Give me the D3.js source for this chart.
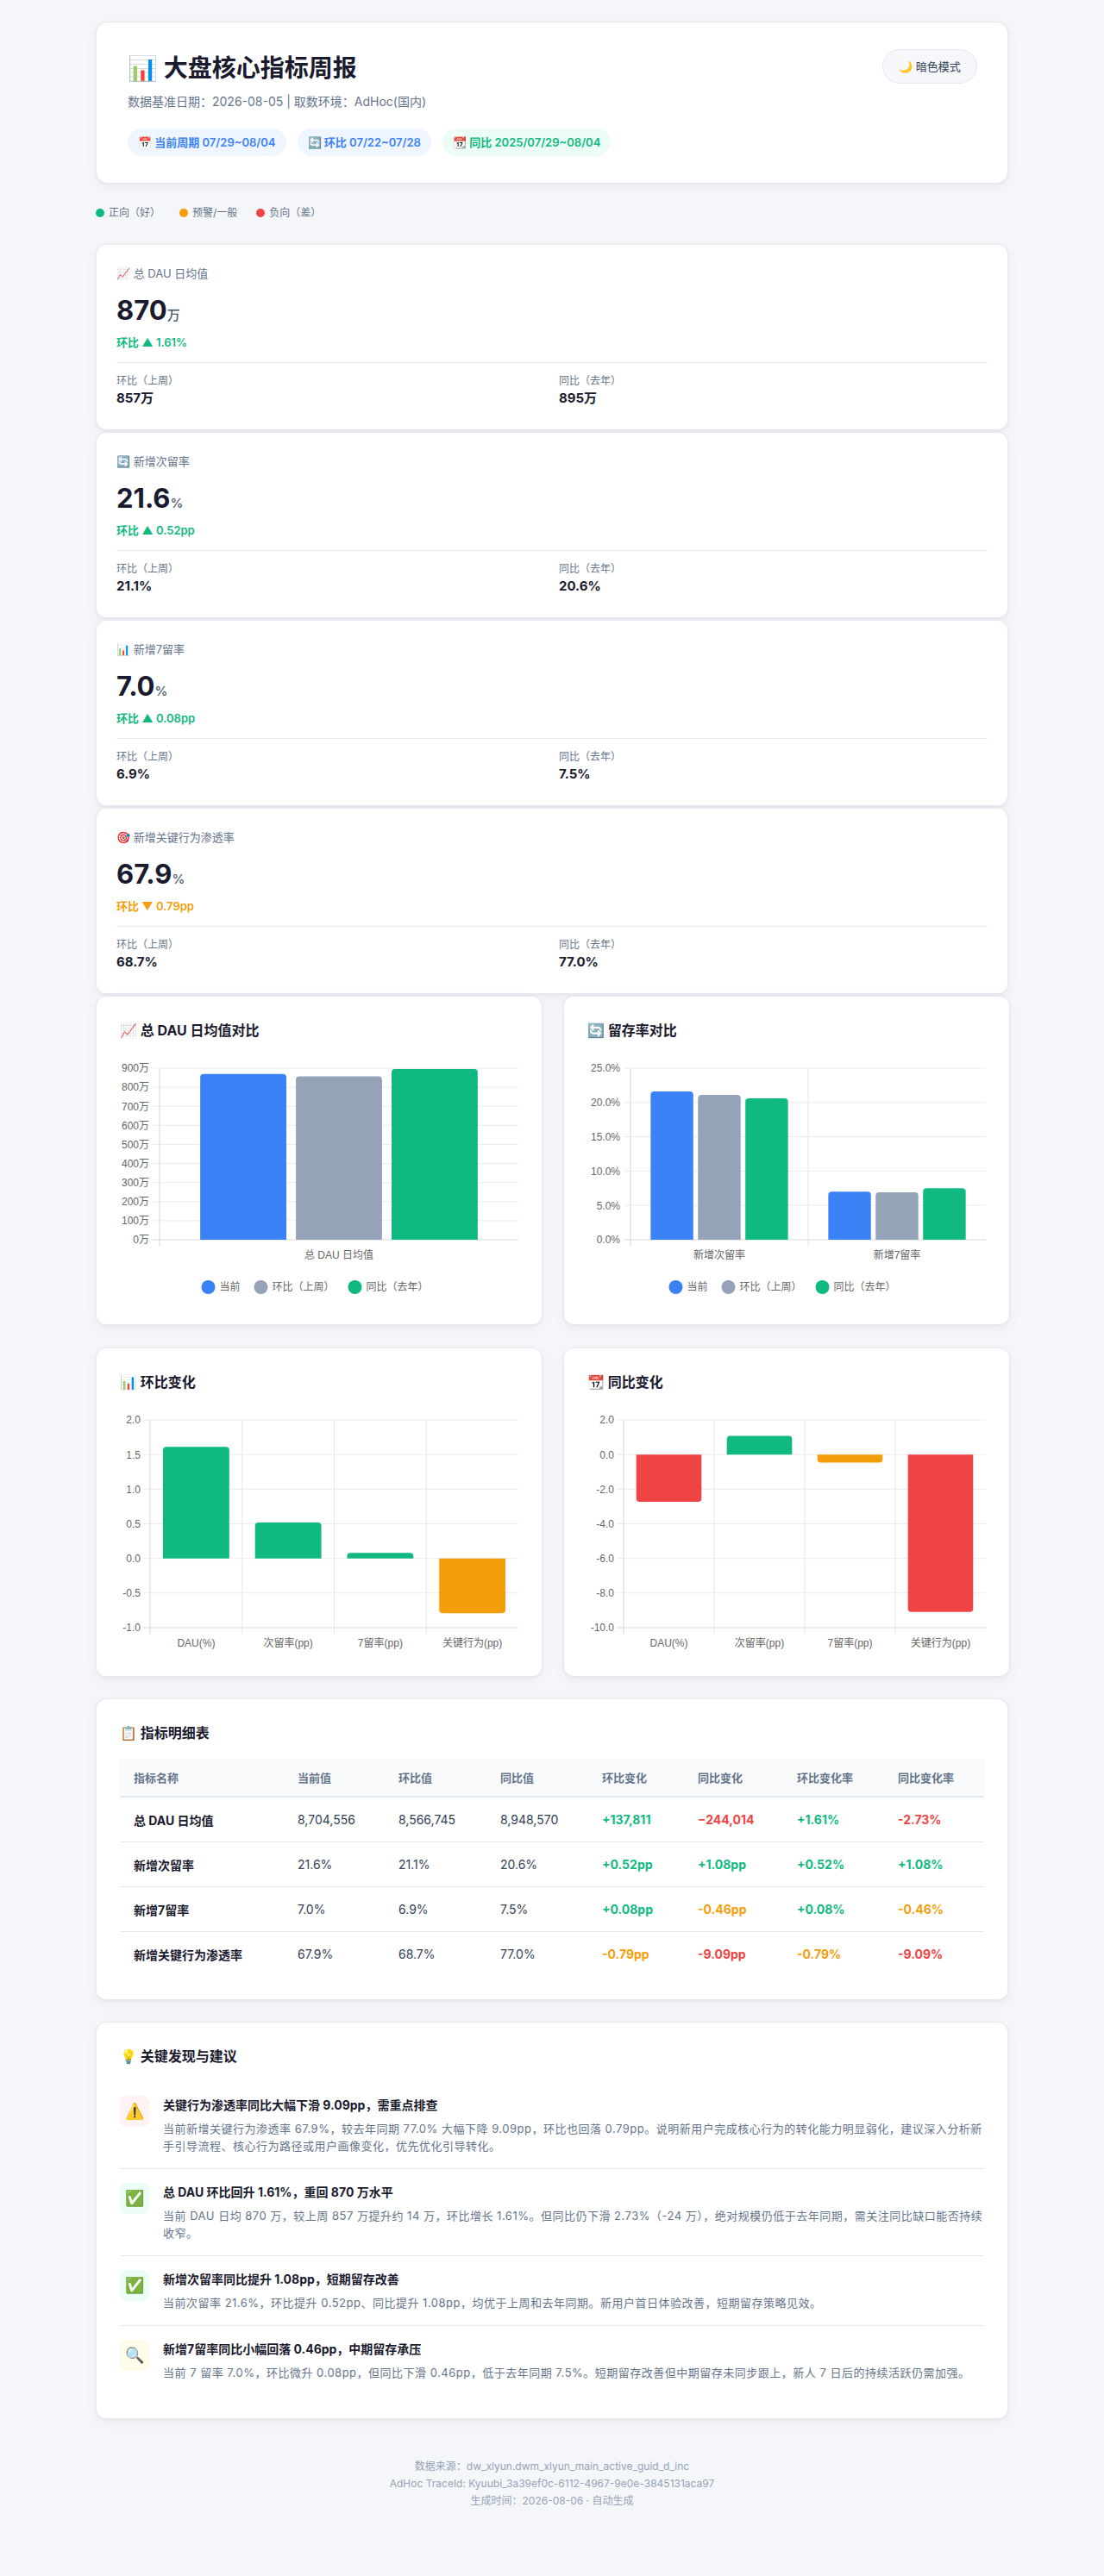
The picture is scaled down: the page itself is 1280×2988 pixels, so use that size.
<!DOCTYPE html>
<html lang="zh-CN">
<head>
<meta charset="utf-8">
<title>大盘核心指标周报</title>
<script src="https://cdn.jsdelivr.net/npm/d3@7"></script>
<style>
  body {
    margin: 0;
    background: #f4f6fa;
    font-family: Inter, "Noto Sans CJK SC", sans-serif;
    color: #1e293b;
  }
  .wrap { width: 1058px; margin: 0 auto; padding: 25px 0 60px; }
  .card {
    background: #fff;
    border: 1px solid #e5e9f0;
    border-radius: 14px;
    box-shadow: 0 1px 3px rgba(15, 23, 42, 0.05), 0 4px 14px rgba(15, 23, 42, 0.04);
    box-sizing: border-box;
  }
  .header { position: relative; padding: 35px 36px 31px; }
  .header h1 { margin: 0; height: 36px; font-size: 28px; line-height: 36px; font-weight: 700; color: #1a1a2e; }
  .header .sub { margin-top: 11px; height: 20px; font-size: 14px; line-height: 20px; color: #64748b; }
  .pills { margin-top: 21px; display: flex; gap: 13px; }
  .pill { height: 32px; line-height: 32px; padding: 0 12px; border-radius: 16px; font-size: 13px; font-weight: 600; overflow: hidden; }
  .pill.blue { background: #eff6ff; color: #3b82f6; }
  .pill.green { background: #ecfdf5; color: #10b981; }
  .theme-btn {
    position: absolute; top: 31px; right: 35px; width: 110px; height: 40px; box-sizing: border-box;
    border: 1px solid #e2e8f0; border-radius: 20px; background: #f5f7fa;
    font-size: 13px; line-height: 38px; text-align: center; color: #334155; overflow: hidden;
  }
  .legend { margin: 24px 0 26px; height: 20px; display: flex; gap: 22px; font-size: 12px; line-height: 20px; color: #64748b; }
  .legend span { display: flex; align-items: center; }
  .legend i { width: 10px; height: 10px; border-radius: 50%; margin-right: 5px; display: inline-block; }
  .kpi { padding: 23px 23px 25px; margin-bottom: 2px; border-radius: 12px; }
  .kpi .label { height: 20px; font-size: 13px; line-height: 20px; color: #64748b; }
  .kpi .value { margin-top: 15px; height: 36px; font-size: 31px; line-height: 36px; font-weight: 700; color: #1a1a2e; }
  .kpi .value small { font-size: 15px; font-weight: 500; color: #475569; }
  .kpi .change { margin-top: 9px; height: 20px; font-size: 13px; line-height: 20px; font-weight: 600; }
  .kpi .compare { margin-top: 13px; border-top: 1px solid #e2e8f0; padding-top: 12px; display: grid; grid-template-columns: 1fr 1fr; gap: 16px; }
  .kpi .compare .k { height: 18px; font-size: 12px; line-height: 18px; color: #64748b; }
  .kpi .compare .v { height: 22px; font-size: 15px; line-height: 22px; font-weight: 700; color: #1a1a2e; }
  .charts { margin-top: 2px; display: grid; grid-template-columns: 1fr 1fr; column-gap: 24px; row-gap: 26px; }
  .chart-card { padding: 27px; height: 382px; border-radius: 12px; }
  .chart-title, .section-title { height: 24px; font-size: 16px; line-height: 24px; font-weight: 700; color: #1a1a2e; margin-bottom: 18px; }
  .chart-card svg { overflow: visible; display: block; }
  .section { margin-top: 25px; padding: 27px; border-radius: 12px; }
  table { width: 100%; border-collapse: collapse; }
  th { background: #f8fafc; height: 43px; padding: 0 16px; text-align: left; font-size: 13px; font-weight: 600; color: #64748b; border-bottom: 2px solid #e2e8f0; }
  td { height: 51px; padding: 0 16px; font-size: 14px; color: #334155; border-bottom: 1px solid #e2e8f0; }
  tr:last-child td { border-bottom: none; }
  td.name { font-weight: 700; color: #1a1a2e; }
  td.chg { font-weight: 700; }
  .good { color: #10b981; }
  .warn { color: #f59e0b; }
  .bad { color: #ef4444; }
  .item { display: flex; padding: 16px 0; border-bottom: 1px solid #e2e8f0; }
  .item:last-child { border-bottom: none; }
  .item .icon { flex: 0 0 34px; height: 36px; border-radius: 8px; margin-right: 16px; font-size: 18px; line-height: 36px; text-align: center; overflow: hidden; }
  .item .t { height: 22px; font-size: 14px; line-height: 22px; font-weight: 700; color: #1a1a2e; }
  .item .d { margin-top: 6px; font-size: 13px; line-height: 20px; letter-spacing: 0.5px; color: #64748b; }
  .footer { margin-top: 45px; text-align: center; font-size: 12px; line-height: 20px; color: #94a3b8; }
</style>
</head>
<body>
<div class="wrap">
  <div class="card header">
    <h1>📊 大盘核心指标周报</h1>
    <div class="sub">数据基准日期：2026-08-05 | 取数环境：AdHoc(国内)</div>
    <div class="pills">
      <div class="pill blue">📅 当前周期 07/29~08/04</div>
      <div class="pill blue">🔄 环比 07/22~07/28</div>
      <div class="pill green">📆 同比 2025/07/29~08/04</div>
    </div>
    <div class="theme-btn">🌙 暗色模式</div>
  </div>
  <div class="legend">
    <span><i style="background:#10b981"></i>正向（好）</span>
    <span><i style="background:#f59e0b"></i>预警/一般</span>
    <span><i style="background:#ef4444"></i>负向（差）</span>
  </div>
  <div id="kpis"></div>
  <div class="charts">
    <div class="card chart-card"><div class="chart-title">📈 总 DAU 日均值对比</div><div id="chart-dau"></div></div>
    <div class="card chart-card"><div class="chart-title">🔄 留存率对比</div><div id="chart-ret"></div></div>
    <div class="card chart-card"><div class="chart-title">📊 环比变化</div><div id="chart-qoq"></div></div>
    <div class="card chart-card"><div class="chart-title">📆 同比变化</div><div id="chart-yoy"></div></div>
  </div>
  <div class="card section">
    <div class="section-title">📋 指标明细表</div>
    <table id="detail"></table>
  </div>
  <div class="card section">
    <div class="section-title">💡 关键发现与建议</div>
    <div id="findings"></div>
  </div>
  <div class="footer">
    <div>数据来源：dw_xlyun.dwm_xlyun_main_active_guid_d_inc</div>
    <div>AdHoc TraceId: Kyuubi_3a39ef0c-6112-4967-9e0e-3845131aca97</div>
    <div>生成时间：2026-08-06 · 自动生成</div>
  </div>
</div>

<script>
// metric values
const metricNames = ['总 DAU 日均值', '新增次留率', '新增7留率', '新增关键行为渗透率'];
const metricIcons = ['📈', '🔄', '📊', '🎯'];
const currentVals = [8704556, 21.6, 7.0, 67.9];
const prevWeekVals = [8566745, 21.1, 6.9, 68.7];
const lastYearVals = [8948570, 20.6, 7.5, 77.0];
const qoqDiff = [137811, 0.52, 0.08, -0.79];
const yoyDiff = [-244014, 1.08, -0.46, -9.09];
const qoqRate = [1.61, 0.52, 0.08, -0.79];
const yoyRate = [-2.73, 1.08, -0.46, -9.09];
const qoqTone = ['good', 'good', 'good', 'warn'];
const yoyTone = ['bad', 'good', 'warn', 'bad'];

// chart data
const seriesNames = ['当前', '环比（上周）', '同比（去年）'];
const seriesColors = ['#3b82f6', '#94a3b8', '#10b981'];
const dauCats = ['总 DAU 日均值'];
const dauWan = [[870], [857], [895]];
const retCats = ['新增次留率', '新增7留率'];
const retVals = [[21.6, 7.0], [21.1, 6.9], [20.6, 7.5]];
const changeCats = ['DAU(%)', '次留率(pp)', '7留率(pp)', '关键行为(pp)'];
const qoqChartVals = [1.61, 0.52, 0.08, -0.79];
const yoyChartVals = [-2.73, 1.08, -0.46, -9.09];
const dauTicks = [0, 100, 200, 300, 400, 500, 600, 700, 800, 900];
const retTicks = [0, 5, 10, 15, 20, 25];
const qoqTicks = [-1, -0.5, 0, 0.5, 1, 1.5, 2];
const yoyTicks = [-10, -8, -6, -4, -2, 0, 2];

const toneColor = { good: '#10b981', warn: '#f59e0b', bad: '#ef4444' };

const fmtInt = d3.format(',');
const signed = (v, s) => (v > 0 ? '+' : '') + s;

function fmtValue(i, v) {
  return i === 0 ? fmtInt(v) : v.toFixed(1) + '%';
}

function fmtDiff(i, v) {
  return i === 0 ? signed(v, fmtInt(v)) : signed(v, v.toFixed(2) + 'pp');
}

function buildKpis() {
  const cards = d3.select('#kpis')
    .selectAll('div.kpi')
    .data(metricNames)
    .join('div')
    .attr('class', 'card kpi');

  cards.append('div').attr('class', 'label').text((d, i) => metricIcons[i] + ' ' + d);

  const val = cards.append('div').attr('class', 'value');
  val.append('span').text((d, i) => i === 0 ? Math.round(currentVals[i] / 1e4) : currentVals[i].toFixed(1));
  val.append('small').text((d, i) => i === 0 ? '万' : '%');

  cards.append('div')
    .attr('class', (d, i) => 'change ' + qoqTone[i])
    .text((d, i) => {
      const v = i === 0 ? qoqRate[i] : qoqDiff[i];
      const unit = i === 0 ? '%' : 'pp';
      return '环比 ' + (v >= 0 ? '▲' : '▼') + ' ' + Math.abs(v).toFixed(2) + unit;
    });

  const cmp = cards.append('div').attr('class', 'compare');
  const short = (i, v) => i === 0 ? Math.round(v / 1e4) + '万' : v.toFixed(1) + '%';
  const c1 = cmp.append('div');
  c1.append('div').attr('class', 'k').text('环比（上周）');
  c1.append('div').attr('class', 'v').text((d, i) => short(i, prevWeekVals[i]));
  const c2 = cmp.append('div');
  c2.append('div').attr('class', 'k').text('同比（去年）');
  c2.append('div').attr('class', 'v').text((d, i) => short(i, lastYearVals[i]));
}

// bar with rounded end away from zero
function barPath(x, w, yZero, yVal, r) {
  const h = Math.abs(yZero - yVal);
  r = Math.min(r, h, w / 2);
  if (yVal <= yZero) {
    return `M${x},${yZero}V${yVal + r}Q${x},${yVal} ${x + r},${yVal}H${x + w - r}Q${x + w},${yVal} ${x + w},${yVal + r}V${yZero}Z`;
  }
  return `M${x},${yZero}V${yVal - r}Q${x},${yVal} ${x + r},${yVal}H${x + w - r}Q${x + w},${yVal} ${x + w},${yVal - r}V${yZero}Z`;
}

function drawBars(target, cfg) {
  const width = 462;
  const height = 284;
  const top = 14;
  const font = '"Helvetica Neue", Helvetica, Arial, "Noto Sans CJK SC", sans-serif';

  const svg = d3.select(target).append('svg')
    .attr('width', width)
    .attr('height', height)
    .style('font-family', font);

  const x0 = d3.scaleBand().domain(cfg.categories).range([cfg.left, width]).padding(0);
  const x1 = d3.scaleBand()
    .domain(d3.range(cfg.series.length))
    .range([x0.bandwidth() * 0.1, x0.bandwidth() * 0.9])
    .paddingInner(0.1)
    .paddingOuter(0.05);
  const y = d3.scaleLinear().domain(d3.extent(cfg.ticks)).range([cfg.bottom, top]);

  // horizontal grid
  svg.append('g')
    .selectAll('line')
    .data(cfg.ticks)
    .join('line')
    .attr('x1', cfg.left - 8)
    .attr('x2', width)
    .attr('y1', (d) => y(d))
    .attr('y2', (d) => y(d))
    .attr('stroke', (d, i) => i === 0 ? '#d9d9d9' : '#ececec');

  // vertical grid at category boundaries
  svg.append('g')
    .selectAll('line')
    .data(cfg.categories)
    .join('line')
    .attr('x1', (d) => x0(d))
    .attr('x2', (d) => x0(d))
    .attr('y1', top)
    .attr('y2', cfg.bottom + 8)
    .attr('stroke', (d, i) => i === 0 ? '#d4d4d4' : '#e6e6e6');

  const yAxis = d3.axisLeft(y).tickValues(cfg.ticks).tickFormat(cfg.format).tickSize(0).tickPadding(cfg.pad);
  svg.append('g')
    .attr('transform', `translate(${cfg.left},0)`)
    .call(yAxis)
    .call((g) => g.select('.domain').remove())
    .selectAll('text')
    .attr('fill', '#666')
    .style('font-size', '12px')
    .style('font-family', font);

  // bars
  cfg.series.forEach((s, si) => {
    svg.append('g')
      .selectAll('path')
      .data(s.values)
      .join('path')
      .attr('d', (v, ci) => barPath(x0(cfg.categories[ci]) + x1(si), x1.bandwidth(), y(0), y(v), 4))
      .attr('fill', (v, ci) => typeof s.color === 'function' ? s.color(v, ci) : s.color);
  });

  // category labels
  svg.append('g')
    .selectAll('text')
    .data(cfg.categories)
    .join('text')
    .attr('x', (d) => x0(d) + x0.bandwidth() / 2)
    .attr('y', cfg.labelY)
    .attr('dy', '0.35em')
    .attr('text-anchor', 'middle')
    .attr('fill', '#666')
    .style('font-size', '12px')
    .text((d) => d);

  if (cfg.legend) {
    const gap = 16;
    const lg = svg.append('g');
    let cx = 0;
    cfg.series.forEach((s) => {
      const item = lg.append('g').attr('transform', `translate(${cx},0)`);
      item.append('circle').attr('cx', 8).attr('cy', cfg.legendY).attr('r', 8).attr('fill', s.color);
      const t = item.append('text')
        .attr('x', 21)
        .attr('y', cfg.legendY)
        .attr('dy', '0.35em')
        .attr('fill', '#666')
        .style('font-size', '12px')
        .text(s.name);
      cx += 21 + t.node().getComputedTextLength() + gap;
    });
    const total = cx - gap;
    lg.attr('transform', `translate(${226 - total / 2},0)`);
  }
}

function buildCharts() {
  drawBars('#chart-dau', {
    categories: dauCats,
    series: seriesNames.map((n, i) => ({ name: n, color: seriesColors[i], values: dauWan[i] })),
    ticks: dauTicks,
    format: (d) => d + '万',
    left: 46, pad: 12, bottom: 213, labelY: 231, legendY: 268, legend: true,
  });

  drawBars('#chart-ret', {
    categories: retCats,
    series: seriesNames.map((n, i) => ({ name: n, color: seriesColors[i], values: retVals[i] })),
    ticks: retTicks,
    format: (d) => d.toFixed(1) + '%',
    left: 50, pad: 12, bottom: 213, labelY: 231, legendY: 268, legend: true,
  });

  drawBars('#chart-qoq', {
    categories: changeCats,
    series: [{ name: '环比', color: (v, i) => toneColor[qoqTone[i]], values: qoqChartVals }],
    ticks: qoqTicks,
    format: (d) => d.toFixed(1),
    left: 35, pad: 11, bottom: 255, labelY: 273,
  });

  drawBars('#chart-yoy', {
    categories: changeCats,
    series: [{ name: '同比', color: (v, i) => toneColor[yoyTone[i]], values: yoyChartVals }],
    ticks: yoyTicks,
    format: (d) => d.toFixed(1),
    left: 42, pad: 11, bottom: 255, labelY: 273,
  });
}

function buildTable() {
  const headers = ['指标名称', '当前值', '环比值', '同比值', '环比变化', '同比变化', '环比变化率', '同比变化率'];
  const widths = [190, 117, 118, 118, 111, 115, 117, 116];
  const table = d3.select('#detail');
  table.append('colgroup').selectAll('col').data(widths).join('col').style('width', (d) => d + 'px');
  table.append('thead').append('tr').selectAll('th').data(headers).join('th').text((d) => d);

  const rows = table.append('tbody').selectAll('tr').data(metricNames).join('tr');
  rows.append('td').attr('class', 'name').text((d) => d);
  rows.append('td').text((d, i) => fmtValue(i, currentVals[i]));
  rows.append('td').text((d, i) => fmtValue(i, prevWeekVals[i]));
  rows.append('td').text((d, i) => fmtValue(i, lastYearVals[i]));
  rows.append('td').attr('class', (d, i) => 'chg ' + qoqTone[i]).text((d, i) => fmtDiff(i, qoqDiff[i]));
  rows.append('td').attr('class', (d, i) => 'chg ' + yoyTone[i]).text((d, i) => fmtDiff(i, yoyDiff[i]));
  rows.append('td').attr('class', (d, i) => 'chg ' + qoqTone[i]).text((d, i) => signed(qoqRate[i], qoqRate[i].toFixed(2) + '%'));
  rows.append('td').attr('class', (d, i) => 'chg ' + yoyTone[i]).text((d, i) => signed(yoyRate[i], yoyRate[i].toFixed(2) + '%'));
}

const findingIcons = ['⚠️', '✅', '✅', '🔍'];
const findingBgs = ['#fef2f2', '#ecfdf5', '#ecfdf5', '#fefce8'];
const findingTitles = [
  '关键行为渗透率同比大幅下滑 9.09pp，需重点排查',
  '总 DAU 环比回升 1.61%，重回 870 万水平',
  '新增次留率同比提升 1.08pp，短期留存改善',
  '新增7留率同比小幅回落 0.46pp，中期留存承压',
];
const findingTexts = [
  '当前新增关键行为渗透率 67.9%，较去年同期 77.0% 大幅下降 9.09pp，环比也回落 0.79pp。说明新用户完成核心行为的转化能力明显弱化，建议深入分析新手引导流程、核心行为路径或用户画像变化，优先优化引导转化。',
  '当前 DAU 日均 870 万，较上周 857 万提升约 14 万，环比增长 1.61%。但同比仍下滑 2.73%（-24 万），绝对规模仍低于去年同期，需关注同比缺口能否持续收窄。',
  '当前次留率 21.6%，环比提升 0.52pp、同比提升 1.08pp，均优于上周和去年同期。新用户首日体验改善，短期留存策略见效。',
  '当前 7 留率 7.0%，环比微升 0.08pp，但同比下滑 0.46pp，低于去年同期 7.5%。短期留存改善但中期留存未同步跟上，新人 7 日后的持续活跃仍需加强。',
];

function buildFindings() {
  const items = d3.select('#findings')
    .selectAll('div.item')
    .data(findingTitles)
    .join('div')
    .attr('class', 'item');
  items.append('div')
    .attr('class', 'icon')
    .style('background', (d, i) => findingBgs[i])
    .text((d, i) => findingIcons[i]);
  const body = items.append('div');
  body.append('div').attr('class', 't').text((d) => d);
  body.append('div').attr('class', 'd').text((d, i) => findingTexts[i]);
}

buildKpis();
buildCharts();
buildTable();
buildFindings();
</script>
</body>
</html>
